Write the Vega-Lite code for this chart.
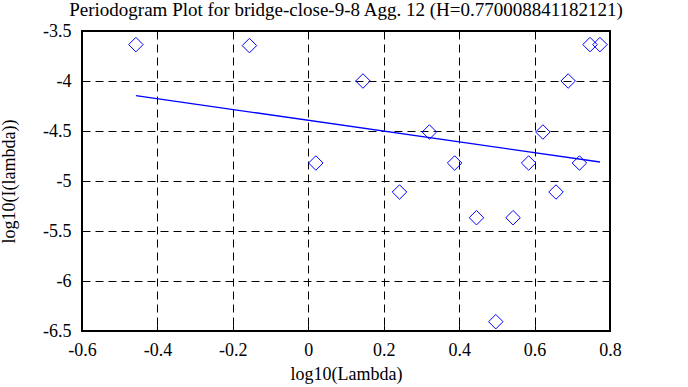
{
  "$schema": "https://vega.github.io/schema/vega-lite/v6.json",
  "width": 528,
  "height": 300,
  "autosize": "none",
  "padding": {"left": 82, "top": 31, "right": 78, "bottom": 56},
  "background": "white",
  "title": {
    "text": "Periodogram Plot for bridge-close-9-8 Agg. 12 (H=0.770008841182121)",
    "font": "Liberation Serif",
    "fontSize": 19,
    "fontWeight": "normal",
    "color": "black",
    "offset": 2
  },
  "config": {
    "view": {"stroke": "black", "strokeWidth": 2},
    "axis": {
      "labelFont": "Liberation Serif",
      "titleFont": "Liberation Serif",
      "labelFontSize": 18,
      "titleFontSize": 18,
      "titleFontWeight": "normal",
      "labelColor": "black",
      "titleColor": "black",
      "tickColor": "black",
      "domain": false,
      "gridColor": "black",
      "gridDash": [8, 5],
      "gridOpacity": 1,
      "gridWidth": 1
    }
  },
  "datasets": {
    "pts": [
      {"x": -0.45709, "y": -3.636},
      {"x": -0.15606, "y": -3.646},
      {"x": 0.02003, "y": -4.82},
      {"x": 0.14497, "y": -4.0},
      {"x": 0.24188, "y": -5.11},
      {"x": 0.32106, "y": -4.51},
      {"x": 0.38801, "y": -4.82},
      {"x": 0.44600, "y": -5.367},
      {"x": 0.49715, "y": -6.407},
      {"x": 0.54291, "y": -5.367},
      {"x": 0.58430, "y": -4.82},
      {"x": 0.62209, "y": -4.51},
      {"x": 0.65685, "y": -5.11},
      {"x": 0.68904, "y": -4.0},
      {"x": 0.71900, "y": -4.82},
      {"x": 0.74703, "y": -3.636},
      {"x": 0.77336, "y": -3.636}
    ],
    "fit": [
      {"x": -0.45709, "y": -4.146},
      {"x": 0.77336, "y": -4.810}
    ]
  },
  "resolve": {"axis": {"x": "independent", "y": "independent"}},
  "layer": [
    {
      "data": {"name": "pts"},
      "mark": {"type": "point", "shape": "diamond", "size": 210, "filled": false, "color": "#0000ff", "strokeWidth": 1, "opacity": 1},
      "encoding": {
        "x": {
          "field": "x", "type": "quantitative",
          "scale": {"domain": [-0.6, 0.8], "nice": false, "zero": false},
          "axis": {"title": "log10(Lambda)", "values": [-0.6, -0.4, -0.2, 0, 0.2, 0.4, 0.6, 0.8], "format": "~g", "labelExpr": "replace(datum.label, '\u2212', '-')", "tickSize": -6, "labelPadding": 16, "titleY": 34, "labelFlush": false, "labelOverlap": false}
        },
        "y": {
          "field": "y", "type": "quantitative",
          "scale": {"domain": [-6.5, -3.5], "nice": false, "zero": false},
          "axis": {"title": "log10(I(lambda))", "values": [-6.5, -6, -5.5, -5, -4.5, -4, -3.5], "format": "~g", "labelExpr": "replace(datum.label, '\u2212', '-')", "tickSize": -6, "labelPadding": 17, "titleX": -64, "labelFlush": false, "labelOverlap": false}
        }
      }
    },
    {
      "data": {"name": "fit"},
      "mark": {"type": "line", "color": "#0000ff", "strokeWidth": 1.3},
      "encoding": {
        "x": {
          "field": "x", "type": "quantitative",
          "axis": {"orient": "top", "title": null, "labels": false, "grid": false, "values": [-0.6, -0.4, -0.2, 0, 0.2, 0.4, 0.6, 0.8], "tickSize": -6}
        },
        "y": {
          "field": "y", "type": "quantitative",
          "axis": {"orient": "right", "title": null, "labels": false, "grid": false, "values": [-6.5, -6, -5.5, -5, -4.5, -4, -3.5], "tickSize": -6}
        }
      }
    }
  ]
}
